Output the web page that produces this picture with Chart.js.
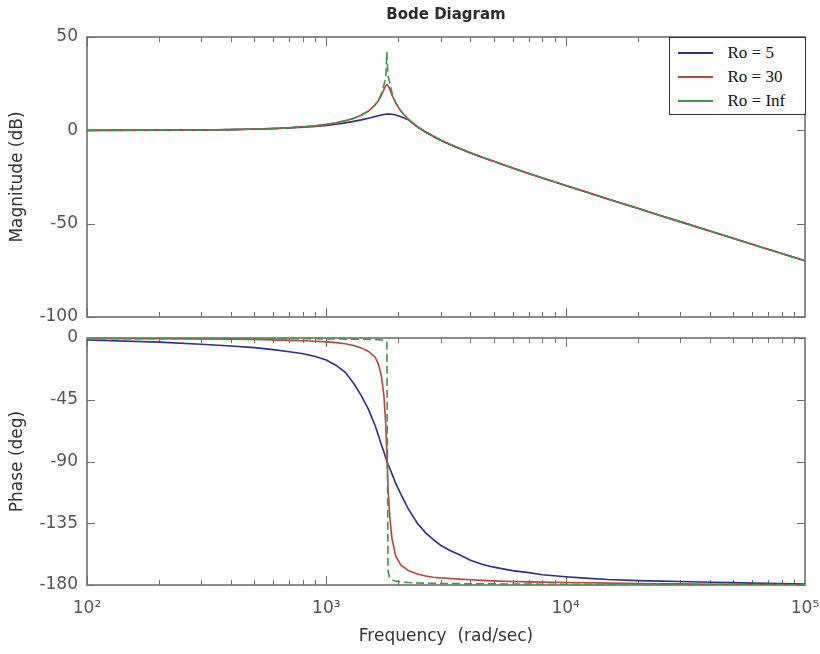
<!DOCTYPE html>
<html>
<head>
<meta charset="utf-8">
<title>Bode Diagram</title>
<script src="https://cdn.jsdelivr.net/npm/chart.js@4.4.1/dist/chart.umd.min.js"></script>
<style>
  body { margin: 0; background: #fff; }
  #wrap { position: relative; width: 820px; height: 654px; overflow: hidden; }
  #magChart { position: absolute; left: 0; top: 0; }
  #phaseChart { position: absolute; left: 0; top: 325px; }
  #legend {
    position: absolute; left: 669px; top: 37px; width: 137px; height: 78px;
    box-sizing: border-box; padding-top: 3px; border: 1.5px solid #333; background: #fff;
    font-family: "Liberation Serif", serif; font-size: 17px; color: #111; z-index: 2;
  }
  .row { display: flex; align-items: center; height: 24px; }
  .swatch { display: block; width: 35px; height: 2px; margin-left: 7.5px; margin-right: 15px; }
</style>
</head>
<body>
<div id="wrap">
  <canvas id="magChart" width="820" height="325"></canvas>
  <canvas id="phaseChart" width="820" height="329"></canvas>
  <div id="legend"></div>
</div>
<script>
// Frequencies in rad/sec (shared by every curve)
const freq = [100, 200, 300, 400, 500, 600, 700, 800, 900, 1000,
  1100, 1200, 1300, 1400, 1500, 1600, 1650, 1700, 1740, 1770,
  1790, 1810, 1840, 1880, 1950, 2050, 2200, 2400, 2600, 2800,
  3000, 3300, 3600, 4000, 4500, 5000, 6000, 7000, 8000, 10000,
  12000, 15000, 20000, 25000, 30000, 40000, 50000, 60000, 70000, 80000, 100000];

const seriesNames = ['Ro = 5', 'Ro = 30', 'Ro = Inf'];
const seriesColors = ['#2a2f93', '#c6403a', '#3a9b45'];

// Magnitude (dB)
const magRo5 = [0.0, 0.1, 0.2, 0.4, 0.6, 0.9, 1.3, 1.7, 2.1, 2.6,
  3.3, 4.0, 4.8, 5.6, 6.5, 7.4, 7.8, 8.2, 8.5, 8.6,
  8.7, 8.7, 8.7, 8.6, 8.2, 7.3, 5.6, 1.9, -1.0, -3.3,
  -5.3, -7.7, -9.7, -12.1, -14.5, -16.6, -20.2, -23.1, -25.5, -29.6,
  -32.8, -36.8, -41.8, -45.7, -48.9, -53.9, -57.8, -61.0, -63.7, -66.0, -69.9];
const magRo30 = [0.0, 0.1, 0.2, 0.4, 0.7, 1.0, 1.4, 1.9, 2.4, 3.2,
  4.1, 5.1, 6.4, 8.1, 10.3, 13.6, 15.8, 18.8, 21.9, 23.8,
  24.4, 24.0, 22.2, 18.9, 14.6, 10.2, 5.9, 2.0, -0.8, -3.1,
  -5.1, -7.6, -9.6, -12.0, -14.5, -16.6, -20.2, -23.1, -25.5, -29.6,
  -32.8, -36.8, -41.8, -45.7, -48.9, -53.9, -57.8, -61.0, -63.7, -66.0, -69.9];
const magRoInf = [0.0, 0.1, 0.2, 0.4, 0.7, 1.0, 1.4, 1.9, 2.4, 3.2,
  4.1, 5.2, 6.5, 8.2, 10.4, 13.8, 16.2, 19.8, 24.5, 28.0,
  42.0, 29.0, 25.7, 20.2, 14.8, 10.3, 6.0, 2.1, -0.8, -3.1,
  -5.1, -7.6, -9.6, -12.0, -14.5, -16.6, -20.2, -23.1, -25.5, -29.6,
  -32.8, -36.8, -41.8, -45.7, -48.9, -53.9, -57.8, -61.0, -63.7, -66.0, -69.9];

// Phase (deg)
const phaseRo5 = [-1.5, -3.0, -4.5, -5.8, -7.0, -8.5, -10.0, -11.5, -13.5, -16.0,
  -20, -25, -33, -42, -52, -64, -71, -78, -83, -87,
  -89.6, -92, -95, -99, -106, -114, -124.5, -135, -142, -147,
  -151, -155, -158, -162, -165, -167, -169.5, -171, -172.5, -174,
  -175, -176, -176.8, -177.2, -177.5, -178, -178.3, -178.6, -178.8, -179, -179.3];
const phaseRo30 = [-0.3, -0.5, -0.7, -0.9, -1.1, -1.4, -1.7, -2.0, -2.4, -2.8,
  -3.4, -4.2, -5.4, -7.2, -9.8, -14, -19, -28, -42, -62,
  -84, -108, -130, -146, -159, -165.5, -169.5, -172, -173.5, -174.3,
  -174.8, -175.3, -175.7, -176.2, -176.6, -177, -177.4, -177.7, -177.9, -178.2,
  -178.4, -178.6, -178.9, -179.1, -179.2, -179.4, -179.5, -179.6, -179.7, -179.7, -179.8];
const phaseRoInf = [-0.5, -0.5, -0.5, -0.5, -0.5, -0.5, -0.6, -0.6, -0.6, -0.7,
  -0.7, -0.8, -0.8, -0.9, -1.0, -1.1, -1.2, -1.4, -1.7, -2.2,
  -3.0, -170, -175, -176.5, -177.2, -177.8, -178.2, -178.5, -178.7, -178.8,
  -178.9, -179.0, -179.0, -179.1, -179.2, -179.2, -179.3, -179.3, -179.4, -179.4,
  -179.5, -179.5, -179.5, -179.6, -179.6, -179.6, -179.7, -179.7, -179.7, -179.8, -179.8];

// Tick values / labels
const magTicks = [-100, -50, 0, 50];
const phaseTicks = [-180, -135, -90, -45, 0];
const freqTicks = [100, 1000, 10000, 100000];
const freqTickLabels = ['10²', '10³', '10⁴', '10⁵'];

const axisFont = { family: "'DejaVu Sans', sans-serif", size: 17 };

// legend box (top right of magnitude plot)
const legendBox = document.getElementById('legend');
legendBox.innerHTML = seriesNames.map((n, i) =>
  `<div class="row"><span class="swatch" style="background-color:${seriesColors[i]}"></span>${n}</div>`
).join('');

function makeSets(lists) {
  return lists.map((vals, i) => ({
    label: seriesNames[i],
    data: freq.map((f, j) => ({ x: f, y: vals[j] })),
    borderColor: seriesColors[i],
    borderWidth: 1.6,
    borderDash: i === 2 ? [8, 4] : [],
    pointRadius: 0,
    fill: false,
    tension: 0,
    order: 2 - i
  }));
}

// MATLAB style box with inward ticks (major + minor on log axis)
const axesBox = {
  id: 'axesBox',
  beforeDatasetsDraw(chart) {
    const { ctx, chartArea: a, scales: { x, y } } = chart;
    ctx.save();
    ctx.strokeStyle = '#6e6e6e';
    ctx.lineWidth = 1;
    ctx.beginPath();
    for (let dec = 100; dec < 100000; dec *= 10) {
      for (let k = 1; k < 10; k++) {
        const px = Math.round(x.getPixelForValue(dec * k)) + 0.5;
        const len = k === 1 ? 9 : 5;
        ctx.moveTo(px, a.top); ctx.lineTo(px, a.top + len);
        ctx.moveTo(px, a.bottom); ctx.lineTo(px, a.bottom - len);
      }
    }
    y.ticks.forEach(t => {
      const py = Math.round(y.getPixelForValue(t.value)) + 0.5;
      ctx.moveTo(a.left, py); ctx.lineTo(a.left + 8, py);
      ctx.moveTo(a.right, py); ctx.lineTo(a.right - 8, py);
    });
    ctx.stroke();
    ctx.lineWidth = 1.6;
    ctx.strokeRect(a.left, a.top, a.right - a.left, a.bottom - a.top);
    ctx.restore();
  }
};

function yScale(min, max, tickVals, label) {
  return {
    min: min,
    max: max,
    afterBuildTicks: s => { s.ticks = tickVals.map(v => ({ value: v })); },
    ticks: { color: '#555', font: axisFont, padding: 9 },
    grid: { display: false, drawTicks: false },
    border: { display: false },
    title: { display: true, text: label, color: '#333', font: axisFont, padding: { top: 7 } },
    afterFit(s) { s.width = 87; s.paddingTop = 0; s.paddingBottom = 0; }
  };
}

// Magnitude plot
let magChart = new Chart(document.getElementById('magChart'), {
  type: 'line',
  data: { datasets: makeSets([magRo5, magRo30, magRoInf]) },
  options: {
    responsive: false,
    animation: false,
    devicePixelRatio: 1,
    layout: { padding: { left: 0, right: 15, top: 0, bottom: 8 } },
    plugins: {
      legend: { display: false },
      tooltip: { enabled: false },
      title: {
        display: true,
        text: 'Bode Diagram',
        fullSize: false,
        color: '#2b2b2b',
        font: { family: "'DejaVu Sans', sans-serif", size: 15, weight: 'bold' },
        padding: { top: 6, bottom: 13 }
      }
    },
    scales: {
      x: { type: 'logarithmic', display: false, min: 100, max: 100000 },
      y: yScale(-100, 50, magTicks, 'Magnitude (dB)')
    }
  },
  plugins: [axesBox]
});

// Phase plot
let phaseChart = new Chart(document.getElementById('phaseChart'), {
  type: 'line',
  data: { datasets: makeSets([phaseRo5, phaseRo30, phaseRoInf]) },
  options: {
    responsive: false,
    animation: false,
    devicePixelRatio: 1,
    layout: { padding: { left: 0, right: 15, top: 13, bottom: 0 } },
    plugins: {
      legend: { display: false },
      tooltip: { enabled: false }
    },
    scales: {
      x: {
        type: 'logarithmic',
        min: 100,
        max: 100000,
        afterBuildTicks: s => { s.ticks = freqTicks.map(v => ({ value: v })); },
        ticks: {
          autoSkip: false, maxRotation: 0, padding: 13, color: '#555', font: axisFont,
          callback: (v, i) => freqTickLabels[i]
        },
        grid: { display: false, drawTicks: false },
        border: { display: false },
        title: { display: true, text: 'Frequency  (rad/sec)', color: '#333', font: axisFont, padding: { bottom: 7 } },
        afterFit(s) { s.height = 69; s.paddingLeft = 0; s.paddingRight = 0; }
      },
      y: yScale(-180, 0, phaseTicks, 'Phase (deg)')
    }
  },
  plugins: [axesBox]
});
</script>
</body>
</html>
